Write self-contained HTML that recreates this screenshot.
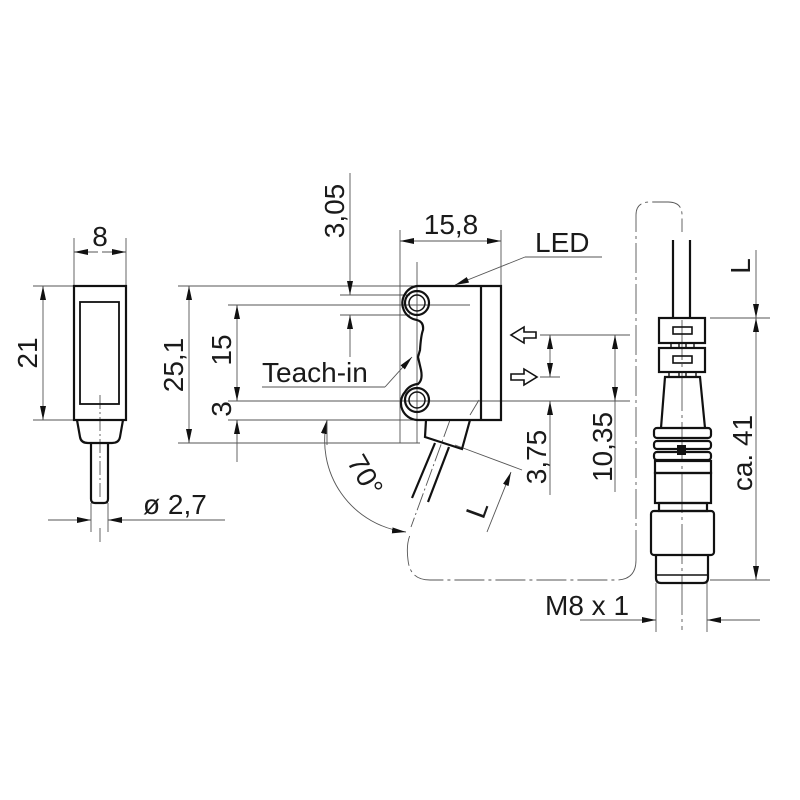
<!DOCTYPE html>
<html><head><meta charset="utf-8"><style>
html,body{margin:0;padding:0;background:#fff;}
svg{display:block;}
text{font-family:"Liberation Sans",sans-serif;fill:#1a1a1a;}
</style></head><body>
<svg width="800" height="800" viewBox="0 0 800 800" xmlns="http://www.w3.org/2000/svg">
<defs>
<marker id="a" viewBox="0 0 14 6" refX="14" refY="3" markerWidth="14" markerHeight="6" orient="auto-start-reverse" markerUnits="userSpaceOnUse"><path d="M0,0 L14,3 L0,6 z" fill="#111"/></marker>
</defs>
<g stroke="#555" stroke-width="0.9" fill="none">
<line x1="74" y1="238" x2="74" y2="286"/><line x1="126" y1="238" x2="126" y2="286"/>
<line x1="74" y1="252" x2="98" y2="252" marker-start="url(#a)"/><line x1="102" y1="252" x2="126" y2="252" marker-end="url(#a)"/>
<line x1="33" y1="286" x2="74" y2="286"/><line x1="33" y1="420" x2="74" y2="420"/>
<line x1="43" y1="286" x2="43" y2="420" marker-start="url(#a)" marker-end="url(#a)"/>
<line x1="48" y1="520" x2="91" y2="520" marker-end="url(#a)"/><line x1="108" y1="520" x2="225" y2="520"/>
<line x1="130" y1="520" x2="108" y2="520" marker-end="url(#a)"/>
<line x1="91" y1="503" x2="91" y2="532"/><line x1="108" y1="503" x2="108" y2="532"/>
<line x1="100" y1="395" x2="100" y2="500" stroke-dasharray="14,3,2,3"/>
<line x1="100" y1="528" x2="100" y2="542"/>
<line x1="178" y1="286" x2="460" y2="286"/>
<line x1="178" y1="443" x2="420" y2="443"/>
<line x1="228" y1="305" x2="470" y2="305"/>
<line x1="228" y1="401" x2="630" y2="401"/>
<line x1="228" y1="420" x2="430" y2="420"/>
<line x1="340" y1="295" x2="410" y2="295"/>
<line x1="340" y1="315" x2="410" y2="315"/>
<line x1="189" y1="286" x2="189" y2="443" marker-start="url(#a)" marker-end="url(#a)"/>
<line x1="237" y1="305" x2="237" y2="401" marker-start="url(#a)" marker-end="url(#a)"/>
<line x1="237" y1="420" x2="237" y2="462"/>
<line x1="237" y1="440" x2="237" y2="420" marker-end="url(#a)"/>
<line x1="350" y1="173" x2="350" y2="295" marker-end="url(#a)"/>
<line x1="350" y1="357" x2="350" y2="315" marker-end="url(#a)"/>
<line x1="400" y1="230" x2="400" y2="443"/><line x1="501" y1="230" x2="501" y2="286"/>
<line x1="400" y1="241" x2="501" y2="241" marker-start="url(#a)" marker-end="url(#a)"/>
<line x1="417" y1="262" x2="417" y2="443"/>
<line x1="525" y1="257" x2="602" y2="257"/>
<line x1="525" y1="257" x2="455" y2="285" marker-end="url(#a)"/>
<line x1="262" y1="387" x2="385" y2="387"/>
<line x1="385" y1="387" x2="412" y2="357" marker-end="url(#a)"/>
<line x1="540" y1="335" x2="630" y2="335"/>
<line x1="540" y1="377" x2="560" y2="377"/>
<line x1="550" y1="335" x2="550" y2="377" marker-start="url(#a)" marker-end="url(#a)"/>
<line x1="550" y1="420" x2="550" y2="401" marker-end="url(#a)"/>
<line x1="550" y1="420" x2="550" y2="495"/>
<line x1="615" y1="335" x2="615" y2="401" marker-start="url(#a)" marker-end="url(#a)"/>
<line x1="615" y1="401" x2="615" y2="492"/>
<path d="M327,420 A92,92 0 0 0 406,532" marker-start="url(#a)" marker-end="url(#a)"/>
<line x1="327" y1="420" x2="327" y2="445"/>
<line x1="455" y1="445" x2="522" y2="470"/>
<line x1="487" y1="532" x2="511" y2="472" marker-end="url(#a)"/>
<line x1="450" y1="420" x2="411" y2="527" stroke-dasharray="18,3,2,3"/>
<line x1="479" y1="400" x2="470" y2="415"/>
<path d="M636,560 L636,215 Q636,202 650,202 L668,202 Q682,202 682,215 L682,232" stroke-dasharray="30,4,3,4"/>
<path d="M636,560 Q636,580 616,580 L430,580 Q410,580 408,560 Q406,545 410,535" stroke-dasharray="30,4,3,4"/>
<line x1="710" y1="318" x2="770" y2="318"/><line x1="710" y1="580" x2="770" y2="580"/>
<line x1="756" y1="250" x2="756" y2="318" marker-end="url(#a)"/>
<line x1="756" y1="318" x2="756" y2="580" marker-start="url(#a)" marker-end="url(#a)"/>
<line x1="656" y1="583" x2="656" y2="632"/><line x1="707" y1="583" x2="707" y2="632"/>
<line x1="580" y1="620" x2="656" y2="620" marker-end="url(#a)"/>
<line x1="760" y1="620" x2="707" y2="620" marker-end="url(#a)"/>
<line x1="682" y1="320" x2="682" y2="630" stroke-dasharray="40,4,3,4"/>
</g>
<g stroke="#111" stroke-width="2.2" fill="none">
<rect x="74" y="286" width="52" height="134"/>
<rect x="80" y="302" width="39" height="102" stroke-width="1.8"/>
<path d="M77,420 L80,437 Q81,443 88,443 L112,443 Q119,443 120,437 L123,420"/>
<path d="M91,443 L91,499 Q91,503 95,503 L104,503 Q108,503 108,499 L108,443"/>
<path d="M417,286 L501,286 L501,420 L417,420 A17,17 0 0 1 405,392 A17,17 0 0 1 418,384 Q423,380 421,370 L418,357 L420,350 Q421,335 423,330 Q424,322 417,320 A17,17 0 0 1 405,294 A17,17 0 0 1 417,286 Z"/>
<line x1="481" y1="286" x2="481" y2="420"/>
<circle cx="417" cy="303" r="12"/><circle cx="417" cy="303" r="8" stroke-width="1.5"/>
<circle cx="417" cy="400" r="12"/><circle cx="417" cy="400" r="8" stroke-width="1.5"/>
<path d="M426,420 L425,437 L462,449 L470,420"/>
<line x1="435" y1="443" x2="412" y2="498"/>
<line x1="449" y1="447" x2="428" y2="502"/>
<path d="M536,332 L524,332 L524,327 L511,335 L524,343 L524,338 L536,338 Z" stroke-width="1.6"/>
<path d="M511,374 L524,374 L524,369 L537,377 L524,385 L524,380 L511,380 Z" stroke-width="1.6"/>
<line x1="673" y1="240" x2="673" y2="318"/><line x1="690" y1="240" x2="690" y2="318"/>
<rect x="659" y="318" width="46" height="25"/>
<rect x="673" y="327" width="19" height="7" stroke-width="1.6"/>
<rect x="671" y="343" width="8" height="5" stroke-width="1.4"/><rect x="686" y="343" width="8" height="5" stroke-width="1.4"/>
<rect x="659" y="348" width="46" height="24"/>
<rect x="673" y="356" width="19" height="7" stroke-width="1.6"/>
<rect x="669" y="372" width="10" height="5" stroke-width="1.4"/><rect x="686" y="372" width="10" height="5" stroke-width="1.4"/>
<path d="M661,428 L665,377 L700,377 L705,428"/>
<rect x="654" y="428" width="57" height="10" rx="3"/>
<rect x="654" y="441" width="57" height="8" rx="3"/>
<rect x="654" y="452" width="57" height="8" rx="3"/>
<rect x="655" y="461" width="56" height="12"/>
<rect x="655" y="473" width="56" height="30"/>
<rect x="659" y="503" width="48" height="8"/>
<rect x="651" y="511" width="63" height="44" rx="3"/>
<path d="M656,555 L656,578 Q656,583 661,583 L703,583 Q708,583 708,578 L708,555"/>
<line x1="656" y1="575" x2="708" y2="575" stroke-width="1.4"/>
</g>
<rect x="677" y="445" width="9" height="10" fill="#111"/>
<g font-size="28">
<text x="100" y="246" text-anchor="middle">8</text>
<text transform="translate(37,353) rotate(-90)" text-anchor="middle">21</text>
<text x="143" y="514">ø  2,7</text>
<text transform="translate(183,365) rotate(-90)" text-anchor="middle">25,1</text>
<text transform="translate(231,350) rotate(-90)" text-anchor="middle">15</text>
<text transform="translate(231,409) rotate(-90)" text-anchor="middle">3</text>
<text transform="translate(344,211) rotate(-90)" text-anchor="middle">3,05</text>
<text x="451" y="234" text-anchor="middle">15,8</text>
<text x="535" y="252">LED</text>
<text x="262" y="382">Teach-in</text>
<text transform="translate(546,457) rotate(-90)" text-anchor="middle">3,75</text>
<text transform="translate(612,447) rotate(-90)" text-anchor="middle">10,35</text>
<text transform="translate(357,480) rotate(60)" text-anchor="middle">70°</text>
<text transform="translate(486,513) rotate(-70)" text-anchor="middle">L</text>
<text transform="translate(750,266) rotate(-90)" text-anchor="middle">L</text>
<text transform="translate(752,453) rotate(-90)" text-anchor="middle">ca.  41</text>
<text x="545" y="615">M8 x 1</text>
</g>
</svg>
</body></html>
